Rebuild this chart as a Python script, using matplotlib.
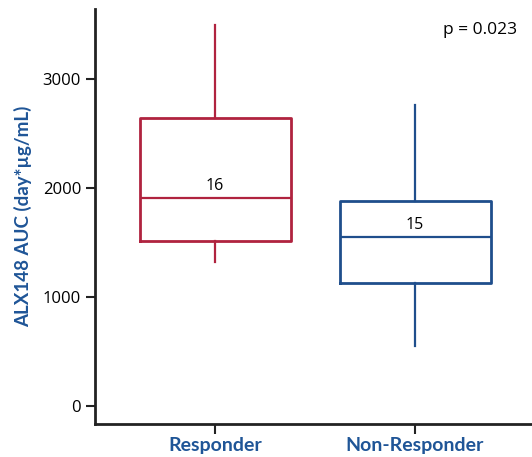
import matplotlib
matplotlib.use("Agg")
import matplotlib.pyplot as plt

plt.rcParams['font.family'] = ['Open Sans', 'DejaVu Sans']

groups = ['Responder', 'Non-Responder']
whislo = [1320, 550]
q1 = [1515, 1130]
med = [1908, 1550]
q3 = [2642, 1881]
whishi = [3495, 2760]
counts = [16, 15]
colors = ['#B0233F', '#1F4E8C']
label_color = '#1F5597'
bold_font = ['Lato', 'DejaVu Sans']

fig = plt.figure(figsize=(5.32, 4.57), dpi=100)
ax = fig.add_axes([95 / 532, 33 / 457, 437 / 532, 415 / 457])

stats = []
for i in range(len(groups)):
    stats.append(dict(whislo=whislo[i], q1=q1[i], med=med[i], q3=q3[i],
                      whishi=whishi[i], fliers=[], label=groups[i]))

for i, s in enumerate(stats):
    c = colors[i]
    ax.bxp([s], positions=[i + 1], widths=0.755, showcaps=False,
           showfliers=False, patch_artist=False,
           boxprops=dict(color=c, linewidth=2),
           medianprops=dict(color=c, linewidth=1.6),
           whiskerprops=dict(color=c, linewidth=1.6))
    ax.text(i + 1, med[i] + 40, str(counts[i]), ha='center', va='bottom',
            fontsize=11.5, color='black')

ax.set_xlim(0.4, 2.585)
ax.set_ylim(-165, 3640)
ax.set_yticks([0, 1000, 2000, 3000])
ax.set_xticks([1, 2])
ax.set_xticklabels(groups, fontsize=14, fontweight='bold', color=label_color,
                   family=bold_font)
ax.set_ylabel('ALX148 AUC (day*µg/mL)', fontsize=13.5, fontweight='bold',
              color=label_color, labelpad=8, family=bold_font)
ax.tick_params(axis='y', labelsize=12, length=6.5, width=1.5, color='#222222')
ax.tick_params(axis='x', length=7, width=1.5, color='#222222', pad=2)
for side in ['top', 'right']:
    ax.spines[side].set_visible(False)
for side in ['left', 'bottom']:
    ax.spines[side].set_linewidth(2)
    ax.spines[side].set_color('#222222')

ax.text(0.966, 0.949, 'p = 0.023', transform=ax.transAxes, ha='right',
        va='center', fontsize=12.5)

fig.savefig('out.png', dpi=100)
